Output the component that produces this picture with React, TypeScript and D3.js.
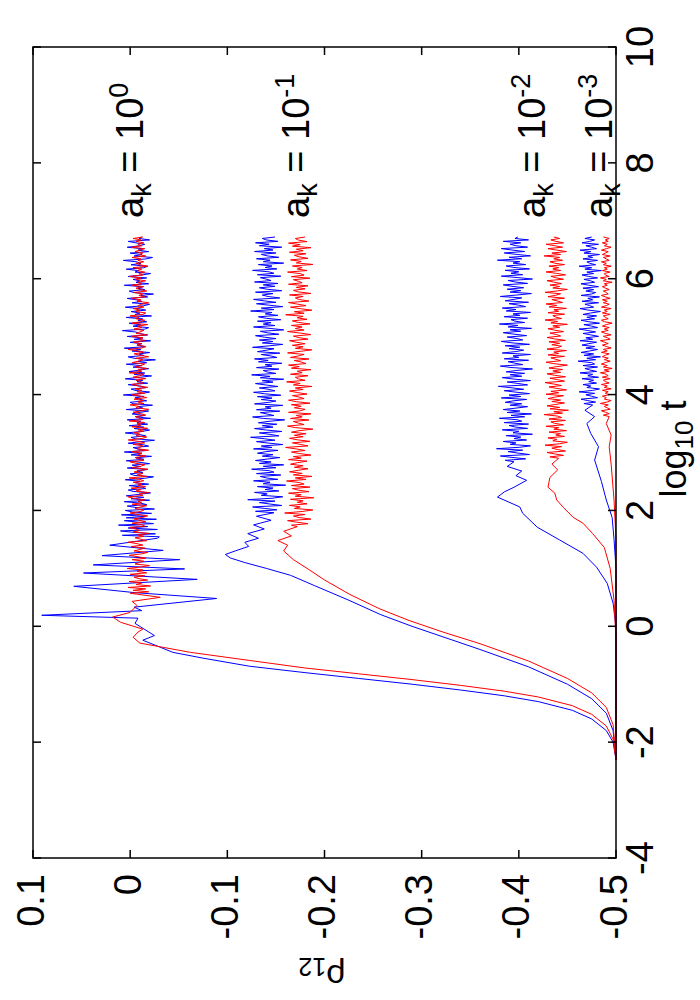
import React, { useEffect, useRef } from 'react';
import * as d3 from 'd3';

// axis ticks
const logTicks = [-4, -2, 0, 2, 4, 6, 8, 10];
const rhoTicks = [0.1, 0, -0.1, -0.2, -0.3, -0.4, -0.5];
const rhoTickLabels = ['0.1', '0', '-0.1', '-0.2', '-0.3', '-0.4', '-0.5'];

// curve annotations (a_k values)
const akExponents = ['0', '-1', '-2', '-3'];
const akLabelRho = [-0.013, -0.184, -0.427, -0.496];
const akLabelLogT = 7.05;

// smooth (early time) parts: [log10 t, rho12]
const blue0Smooth = [[-2.3,-0.5],[-2.0,-0.497],[-1.8,-0.49],[-1.6,-0.475],[-1.45,-0.455],[-1.3,-0.42],[-1.2,-0.385],[-1.1,-0.34],[-1.0,-0.29],[-0.9,-0.235],[-0.8,-0.18],[-0.69,-0.123],[-0.55,-0.075],[-0.45,-0.044],[-0.24,-0.013],[-0.16,-0.025],[0.05,-0.005],[0.14,-0.008],[0.19,0.091],[0.27,-0.012],[0.33,-0.004],[0.48,-0.089],[0.58,-0.005],[0.69,0.058],[0.81,-0.069],[0.92,0.048],[0.99,-0.056],[1.06,0.038],[1.15,-0.051],[1.22,0.029],[1.31,-0.034],[1.40,0.021],[1.52,-0.028]];
const red0Smooth = [[-2.3,-0.5],[-1.95,-0.497],[-1.72,-0.49],[-1.52,-0.475],[-1.37,-0.455],[-1.22,-0.42],[-1.12,-0.385],[-1.02,-0.34],[-0.92,-0.29],[-0.82,-0.235],[-0.72,-0.18],[-0.59,-0.123],[-0.45,-0.062],[-0.29,-0.010],[-0.19,-0.003],[-0.1,-0.008],[-0.05,-0.013],[0.07,0.010],[0.16,0.018],[0.24,0.0],[0.36,-0.007],[0.43,-0.002],[0.5,-0.031],[0.57,0.0]];
const blue1Smooth = [[-2.3,-0.5],[-1.8,-0.497],[-1.5,-0.49],[-1.25,-0.475],[-1.0,-0.45],[-0.7,-0.41],[-0.4,-0.36],[-0.2,-0.325],[0,-0.29],[0.2,-0.258],[0.45,-0.225],[0.7,-0.19],[0.88,-0.165],[1.0,-0.14],[1.1,-0.118],[1.18,-0.103],[1.24,-0.098],[1.3,-0.108],[1.38,-0.122],[1.45,-0.118],[1.52,-0.132],[1.6,-0.121],[1.68,-0.138],[1.75,-0.127],[1.83,-0.145],[1.9,-0.13],[1.96,-0.148]];
const red1Smooth = [[-2.3,-0.5],[-1.7,-0.497],[-1.4,-0.49],[-1.15,-0.475],[-0.9,-0.45],[-0.6,-0.41],[-0.3,-0.36],[-0.1,-0.322],[0.1,-0.287],[0.3,-0.257],[0.55,-0.226],[0.8,-0.2],[1.0,-0.182],[1.15,-0.168],[1.3,-0.158],[1.4,-0.162],[1.48,-0.152],[1.56,-0.166],[1.64,-0.158],[1.72,-0.172]];
const blue2Smooth = [[-2.3,-0.5],[-0.02,-0.5],[0.4,-0.497],[0.74,-0.491],[1.02,-0.48],[1.26,-0.466],[1.49,-0.442],[1.71,-0.419],[1.95,-0.404],[2.06,-0.401],[2.23,-0.378],[2.32,-0.385],[2.4,-0.395],[2.52,-0.408],[2.6,-0.397],[2.68,-0.403],[2.76,-0.388],[2.84,-0.395]];
const red2Smooth = [[-2.3,-0.5],[-0.24,-0.5],[0.45,-0.498],[1.0,-0.494],[1.36,-0.488],[1.6,-0.476],[1.78,-0.466],[1.88,-0.456],[2.05,-0.446],[2.18,-0.439],[2.3,-0.437],[2.4,-0.43],[2.57,-0.432],[2.7,-0.44],[2.8,-0.434],[2.9,-0.441]];
const blue3Smooth = [[-2.3,-0.5],[1.0,-0.5],[1.5,-0.498],[1.88,-0.496],[2.18,-0.49],[2.5,-0.485],[2.87,-0.478],[3.1,-0.482],[3.33,-0.474],[3.5,-0.47],[3.62,-0.478],[3.73,-0.468],[3.82,-0.476]];
const red3Smooth = [[-2.3,-0.5],[1.5,-0.5],[2.18,-0.498],[2.8,-0.495],[3.1,-0.493],[3.3,-0.495],[3.5,-0.49],[3.62,-0.493]];

// fluctuating (late time) parts: rho12 sampled evenly in log10 t up to noiseEnd
const noiseEnd = 6.72;
const blue0Noise = [-0.030,0.008,-0.026,-0.004,0.010,-0.028,0.002,-0.018,0.012,-0.024,-0.008,0.006,-0.027,0.004,-0.016,0.009,-0.022,-0.002,0.005,-0.025,
  -0.006,0.003,-0.017,-0.011,0.006,-0.020,-0.001,-0.014,0.004,-0.009,-0.021,-0.003,0.002,-0.016,-0.012,0.001,-0.019,-0.005,-0.010,0.005,
  -0.015,-0.024,-0.004,0.000,-0.013,-0.007,-0.018,0.003,-0.011,-0.002,-0.020,-0.009,0.004,-0.014,-0.006,-0.022,-0.001,-0.012,0.006,-0.017,
  -0.008,-0.003,-0.019,-0.013,0.002,-0.010,-0.025,-0.005,-0.001,-0.016,-0.009,0.005,-0.012,-0.020,-0.004,-0.014,0.001,-0.018,-0.007,-0.011,
  0.003,-0.021,-0.006,-0.015,-0.002,-0.009,-0.019,0.004,-0.013,-0.008,-0.023,-0.003,0.000,-0.017,-0.010,-0.005,-0.014,0.007,-0.012,-0.020,
  -0.006,-0.001,-0.016,-0.011,0.002,-0.018,-0.007,-0.013,0.005,-0.009,-0.022,-0.004,-0.015,0.001,-0.010,-0.019,-0.003,-0.012,0.004,-0.017,
  -0.008,-0.026,-0.005,0.002,-0.014,-0.009,-0.020,-0.002,-0.011,0.006,-0.016,-0.007,-0.012,0.000,-0.021,-0.004,-0.013,0.003,-0.018,-0.010,
  -0.006,0.008,-0.015,-0.019,-0.003,-0.011,0.001,-0.017,-0.008,-0.013,0.004,-0.022,-0.005,-0.010,-0.001,-0.016,-0.009,0.005,-0.014,-0.020,
  -0.002,-0.012,-0.007,0.003,-0.018,-0.011,-0.024,-0.004,0.001,-0.015,-0.008,-0.013,0.006,-0.019,-0.006,-0.010,-0.003,-0.017,0.002,-0.012,
  -0.021,-0.005,-0.009,0.004,-0.014,-0.018,-0.001,-0.011,-0.007,0.007,-0.016,-0.023,-0.004,-0.012,0.000,-0.019,-0.008,-0.013,0.003,-0.010,
  -0.015,-0.006,0.002,-0.020,-0.009,-0.012];
const red0Noise = [-0.019,-0.003,-0.016,0.002,-0.021,-0.006,-0.012,0.001,-0.018,-0.009,-0.004,-0.015,0.000,-0.017,-0.007,-0.013,0.003,-0.011,-0.020,-0.005,
  -0.009,-0.014,-0.002,-0.016,-0.008,0.001,-0.012,-0.018,-0.004,-0.010,-0.015,-0.001,-0.013,-0.007,0.002,-0.017,-0.011,-0.005,-0.014,-0.008,
  -0.019,-0.003,-0.010,-0.006,0.001,-0.015,-0.012,-0.002,-0.016,-0.009,-0.004,-0.013,-0.018,-0.007,0.000,-0.011,-0.014,-0.005,-0.010,-0.017,
  -0.002,-0.012,-0.008,-0.015,-0.004,0.002,-0.013,-0.009,-0.019,-0.006,-0.011,-0.001,-0.016,-0.008,-0.012,-0.003,-0.014,-0.010,0.001,-0.017,
  -0.007,-0.013,-0.004,-0.009,-0.018,-0.002,-0.011,-0.015,-0.006,0.000,-0.014,-0.010,-0.005,-0.016,-0.008,-0.012,-0.001,-0.019,-0.007,-0.010,
  -0.013,-0.003,-0.015,-0.009,0.002,-0.012,-0.017,-0.006,-0.010,-0.004,-0.014,-0.008,-0.018,-0.002,-0.011,-0.007,-0.015,0.001,-0.013,-0.009,
  -0.005,-0.016,-0.011,-0.003,-0.012,-0.019,-0.006,-0.009,0.000,-0.014,-0.008,-0.013,-0.004,-0.017,-0.010,-0.002,-0.015,-0.007,-0.012,-0.005,
  -0.018,-0.009,-0.001,-0.013,-0.011,-0.006,-0.016,-0.003,-0.010,-0.014,0.001,-0.012,-0.008,-0.017,-0.005,-0.011,-0.015,-0.002,-0.009,-0.013,
  -0.006,-0.019,-0.010,-0.004,-0.014,-0.008,0.002,-0.012,-0.016,-0.007,-0.011,-0.003,-0.015,-0.009,-0.013,-0.001,-0.017,-0.006,-0.010,-0.014,
  -0.004,-0.012,-0.008,-0.018,-0.002,-0.011,-0.015,-0.006,-0.009,0.000,-0.013,-0.016,-0.005,-0.010,-0.003,-0.014,-0.008,-0.012,-0.019,-0.007,
  -0.011,-0.001,-0.015,-0.009,-0.013,-0.004,-0.017,-0.010,-0.006,-0.014,-0.002,-0.012,-0.008,-0.016,-0.005,-0.011,0.001,-0.013,-0.009,-0.015,
  -0.007,-0.012,-0.003,-0.018,-0.010,-0.006,-0.014,-0.008,-0.011,-0.002,-0.016,-0.009,-0.013,-0.005,-0.010,-0.015,-0.001,-0.012,-0.008,-0.014,
  -0.006,-0.011,-0.003,-0.013];
const blue1Noise = [-0.129,-0.151,-0.138,-0.126,-0.156,-0.144,-0.133,-0.149,-0.121,-0.146,-0.157,-0.135,-0.141,-0.128,-0.153,-0.139,-0.147,-0.131,-0.160,-0.137,
  -0.144,-0.127,-0.152,-0.140,-0.134,-0.155,-0.130,-0.148,-0.143,-0.125,-0.150,-0.137,-0.158,-0.133,-0.145,-0.129,-0.141,-0.154,-0.136,-0.147,
  -0.131,-0.139,-0.152,-0.127,-0.146,-0.135,-0.157,-0.142,-0.130,-0.149,-0.138,-0.124,-0.153,-0.144,-0.133,-0.156,-0.140,-0.128,-0.147,-0.136,
  -0.151,-0.132,-0.143,-0.159,-0.137,-0.126,-0.148,-0.141,-0.134,-0.154,-0.130,-0.145,-0.139,-0.157,-0.128,-0.142,-0.150,-0.135,-0.146,-0.131,
  -0.155,-0.138,-0.127,-0.149,-0.143,-0.133,-0.152,-0.140,-0.129,-0.147,-0.136,-0.158,-0.134,-0.144,-0.125,-0.150,-0.141,-0.137,-0.153,-0.130,
  -0.146,-0.139,-0.156,-0.132,-0.142,-0.128,-0.151,-0.145,-0.135,-0.154,-0.131,-0.140,-0.148,-0.126,-0.143,-0.157,-0.136,-0.147,-0.133,-0.150,
  -0.138,-0.129,-0.153,-0.141,-0.134,-0.158,-0.144,-0.127,-0.149,-0.137,-0.145,-0.131,-0.155,-0.140,-0.132,-0.152,-0.139,-0.146,-0.124,-0.148,
  -0.135,-0.157,-0.143,-0.130,-0.150,-0.138,-0.127,-0.154,-0.142,-0.136,-0.147,-0.129,-0.156,-0.141,-0.133,-0.149,-0.137,-0.152,-0.128,-0.145,
  -0.140,-0.134,-0.155,-0.131,-0.148,-0.143,-0.126,-0.151,-0.139,-0.146,-0.132,-0.158,-0.137,-0.144,-0.130,-0.153,-0.141,-0.135,-0.150,-0.128,
  -0.147,-0.138,-0.156,-0.133,-0.143,-0.129,-0.152,-0.140,-0.136,-0.149];
const red1Noise = [-0.166,-0.183,-0.171,-0.162,-0.186,-0.174,-0.168,-0.180,-0.159,-0.177,-0.188,-0.169,-0.175,-0.164,-0.182,-0.172,-0.178,-0.165,-0.189,-0.170,
  -0.176,-0.163,-0.184,-0.173,-0.167,-0.185,-0.166,-0.179,-0.174,-0.161,-0.181,-0.170,-0.187,-0.168,-0.177,-0.164,-0.173,-0.183,-0.169,-0.178,
  -0.165,-0.172,-0.182,-0.163,-0.176,-0.168,-0.186,-0.174,-0.166,-0.180,-0.171,-0.160,-0.183,-0.175,-0.167,-0.185,-0.172,-0.164,-0.178,-0.169,
  -0.181,-0.166,-0.174,-0.188,-0.170,-0.162,-0.179,-0.173,-0.168,-0.184,-0.165,-0.177,-0.171,-0.186,-0.163,-0.175,-0.180,-0.169,-0.176,-0.166,
  -0.185,-0.171,-0.163,-0.179,-0.174,-0.167,-0.182,-0.172,-0.164,-0.178,-0.170,-0.187,-0.168,-0.175,-0.161,-0.180,-0.173,-0.170,-0.183,-0.165,
  -0.177,-0.172,-0.186,-0.166,-0.174,-0.163,-0.181,-0.176,-0.169,-0.184,-0.165,-0.173,-0.179,-0.162,-0.175,-0.187,-0.170,-0.178,-0.167,-0.180,
  -0.171,-0.164,-0.183,-0.174,-0.168,-0.186,-0.175,-0.162,-0.179,-0.170,-0.177,-0.166,-0.185,-0.173,-0.167,-0.182,-0.172,-0.178,-0.160,-0.179,
  -0.169,-0.187,-0.175,-0.165,-0.181,-0.172,-0.163,-0.184,-0.174,-0.170,-0.178,-0.164,-0.186,-0.173,-0.168,-0.180,-0.171,-0.183,-0.163,-0.177,
  -0.173,-0.168,-0.185,-0.166,-0.179,-0.175,-0.162,-0.182,-0.172,-0.177,-0.167,-0.188,-0.171,-0.176,-0.165,-0.183,-0.174,-0.169,-0.181,-0.164,
  -0.178,-0.171,-0.186,-0.167,-0.175,-0.163,-0.182,-0.173,-0.170,-0.180];
const blue2Noise = [-0.386,-0.407,-0.393,-0.381,-0.411,-0.399,-0.389,-0.404,-0.377,-0.401,-0.412,-0.391,-0.397,-0.384,-0.408,-0.395,-0.402,-0.387,-0.414,-0.394,
  -0.400,-0.383,-0.409,-0.396,-0.390,-0.410,-0.385,-0.403,-0.398,-0.380,-0.406,-0.392,-0.413,-0.388,-0.401,-0.384,-0.397,-0.409,-0.391,-0.403,
  -0.386,-0.394,-0.408,-0.382,-0.402,-0.390,-0.411,-0.397,-0.385,-0.405,-0.393,-0.379,-0.409,-0.399,-0.388,-0.412,-0.395,-0.383,-0.403,-0.391,
  -0.406,-0.387,-0.398,-0.414,-0.392,-0.381,-0.404,-0.396,-0.389,-0.410,-0.385,-0.400,-0.394,-0.412,-0.383,-0.397,-0.405,-0.390,-0.401,-0.386,
  -0.411,-0.393,-0.382,-0.404,-0.398,-0.388,-0.408,-0.395,-0.384,-0.402,-0.391,-0.413,-0.389,-0.399,-0.380,-0.406,-0.396,-0.392,-0.409,-0.385,
  -0.401,-0.394,-0.412,-0.387,-0.397,-0.383,-0.407,-0.400,-0.390,-0.410,-0.386,-0.395,-0.403,-0.381,-0.398,-0.413,-0.391,-0.402,-0.388,-0.405,
  -0.393,-0.384,-0.409,-0.396,-0.389,-0.414,-0.399,-0.382,-0.404,-0.392,-0.400,-0.386,-0.411,-0.395,-0.387,-0.407,-0.394,-0.401,-0.378,-0.403,
  -0.390,-0.412,-0.398,-0.385,-0.406,-0.393,-0.382,-0.409,-0.397,-0.391,-0.402,-0.384,-0.410,-0.396,-0.399];
const red2Noise = [-0.432,-0.446,-0.437,-0.429,-0.448,-0.440,-0.434,-0.444,-0.427,-0.442,-0.450,-0.435,-0.439,-0.430,-0.447,-0.438,-0.443,-0.431,-0.449,-0.436,
  -0.441,-0.428,-0.446,-0.437,-0.433,-0.448,-0.431,-0.444,-0.440,-0.426,-0.445,-0.436,-0.451,-0.432,-0.442,-0.429,-0.438,-0.447,-0.434,-0.443,
  -0.430,-0.437,-0.446,-0.428,-0.441,-0.433,-0.449,-0.439,-0.431,-0.444,-0.436,-0.427,-0.447,-0.440,-0.432,-0.448,-0.437,-0.429,-0.443,-0.435,
  -0.445,-0.431,-0.439,-0.450,-0.436,-0.428,-0.443,-0.438,-0.433,-0.447,-0.430,-0.441,-0.436,-0.449,-0.429,-0.440,-0.444,-0.434,-0.442,-0.431,
  -0.448,-0.437,-0.429,-0.443,-0.439,-0.432,-0.446,-0.437,-0.430,-0.442,-0.435,-0.450,-0.433,-0.440,-0.427,-0.444,-0.438,-0.435,-0.447,-0.430,
  -0.441,-0.436,-0.449,-0.431,-0.439,-0.428,-0.445,-0.440,-0.434,-0.447,-0.430,-0.438,-0.443,-0.427,-0.440,-0.450,-0.435,-0.442,-0.432,-0.444,
  -0.436,-0.429,-0.446,-0.438,-0.433,-0.448,-0.439,-0.428,-0.443,-0.435,-0.441,-0.431,-0.447,-0.437,-0.432,-0.445,-0.436,-0.442,-0.426,-0.443,
  -0.434,-0.449,-0.439,-0.430,-0.445,-0.437,-0.428,-0.446,-0.438,-0.433,-0.442,-0.436];
const blue3Noise = [-0.467,-0.479,-0.471,-0.464,-0.481,-0.475,-0.469,-0.478,-0.462,-0.476,-0.483,-0.470,-0.474,-0.466,-0.480,-0.472,-0.477,-0.465,-0.482,-0.471,
  -0.476,-0.463,-0.480,-0.473,-0.468,-0.481,-0.466,-0.478,-0.475,-0.461,-0.479,-0.470,-0.484,-0.467,-0.477,-0.464,-0.473,-0.481,-0.469,-0.478,
  -0.465,-0.472,-0.480,-0.463,-0.476,-0.469,-0.482,-0.474,-0.466,-0.479,-0.471,-0.462,-0.481,-0.475,-0.467,-0.483,-0.472,-0.464,-0.478,-0.470,
  -0.480,-0.466,-0.474,-0.484,-0.471,-0.463,-0.477,-0.473,-0.468,-0.482,-0.465,-0.476,-0.471,-0.483,-0.464,-0.475,-0.479,-0.469,-0.477,-0.466,
  -0.482,-0.472,-0.464,-0.478,-0.474,-0.467,-0.481,-0.472,-0.465,-0.477,-0.470,-0.485,-0.468,-0.475,-0.462,-0.479,-0.473,-0.470,-0.481,-0.466,
  -0.476,-0.471,-0.483,-0.467,-0.474,-0.463,-0.480,-0.475,-0.469,-0.482,-0.465,-0.473,-0.478,-0.468,-0.475];
const red3Noise = [-0.487,-0.493,-0.489,-0.485,-0.494,-0.491,-0.488,-0.492,-0.484,-0.491,-0.495,-0.488,-0.490,-0.486,-0.493,-0.489,-0.492,-0.486,-0.495,-0.488,
  -0.491,-0.485,-0.493,-0.489,-0.487,-0.494,-0.486,-0.492,-0.490,-0.484,-0.493,-0.488,-0.496,-0.487,-0.491,-0.485,-0.489,-0.494,-0.488,-0.492,
  -0.486,-0.489,-0.493,-0.485,-0.491,-0.487,-0.495,-0.490,-0.486,-0.492,-0.488,-0.484,-0.494,-0.491,-0.487,-0.495,-0.489,-0.485,-0.492,-0.488,
  -0.493,-0.486,-0.490,-0.496,-0.488,-0.485,-0.492,-0.489,-0.487,-0.494,-0.486,-0.491,-0.488,-0.495,-0.485,-0.490,-0.493,-0.487,-0.491,-0.486,
  -0.494,-0.489,-0.485,-0.492,-0.490,-0.487,-0.493,-0.489,-0.486,-0.491,-0.488,-0.496,-0.487,-0.490,-0.484,-0.493,-0.489,-0.488,-0.494,-0.486,
  -0.491,-0.488,-0.495,-0.487,-0.490,-0.485,-0.493,-0.490,-0.487,-0.494,-0.486,-0.489,-0.492,-0.485,-0.490,-0.495,-0.488,-0.491,-0.486,-0.492,
  -0.489,-0.493,-0.487];

const series = [
  { color: '#0000ff', smooth: blue0Smooth, noise: blue0Noise },
  { color: '#0000ff', smooth: blue1Smooth, noise: blue1Noise },
  { color: '#0000ff', smooth: blue2Smooth, noise: blue2Noise },
  { color: '#0000ff', smooth: blue3Smooth, noise: blue3Noise },
  { color: '#ff0000', smooth: red0Smooth, noise: red0Noise },
  { color: '#ff0000', smooth: red1Smooth, noise: red1Noise },
  { color: '#ff0000', smooth: red2Smooth, noise: red2Noise },
  { color: '#ff0000', smooth: red3Smooth, noise: red3Noise },
];

const FONT = '"Liberation Sans", Arial, Helvetica, sans-serif';

function buildPoints(s) {
  const pts = s.smooth.map(d => [d[0], d[1]]);
  const last = pts[pts.length - 1][0];
  const n = s.noise.length;
  const start = last + 0.025;
  const step = (noiseEnd - start) / (n - 1);
  s.noise.forEach((v, i) => pts.push([start + i * step, v]));
  return pts;
}

export default function App() {
  const ref = useRef(null);

  useEffect(() => {
    const width = 700;
    const height = 1000;
    const left = 33, right = 616, top = 47, bottom = 858;

    const svg = d3.select(ref.current)
      .attr('width', width)
      .attr('height', height);
    svg.selectAll('*').remove();

    // horizontal: rho12, vertical: log10 t (rotated gnuplot figure)
    const xScale = d3.scaleLinear().domain([0.1, -0.5]).range([left, right]);
    const yScale = d3.scaleLinear().domain([-4, 10]).range([bottom, top]);

    svg.append('rect')
      .attr('width', width).attr('height', height).attr('fill', '#fff');

    // curves
    const line = d3.line()
      .x(d => xScale(d[1]))
      .y(d => yScale(d[0]));

    svg.append('g')
      .selectAll('path')
      .data(series)
      .join('path')
      .attr('d', d => line(buildPoints(d)))
      .attr('fill', 'none')
      .attr('stroke', d => d.color)
      .attr('stroke-width', 1)
      .attr('stroke-linejoin', 'round');

    // frame
    svg.append('rect')
      .attr('x', left).attr('y', top)
      .attr('width', right - left).attr('height', bottom - top)
      .attr('fill', 'none').attr('stroke', '#000').attr('stroke-width', 1.5);

    const tickLen = 8;
    const ticks = svg.append('g').attr('stroke', '#000').attr('stroke-width', 1.5);
    logTicks.forEach(t => {
      const y = yScale(t);
      ticks.append('line').attr('x1', left).attr('x2', left + tickLen).attr('y1', y).attr('y2', y);
      ticks.append('line').attr('x1', right).attr('x2', right - tickLen).attr('y1', y).attr('y2', y);
    });
    rhoTicks.forEach(r => {
      const x = xScale(r);
      ticks.append('line').attr('x1', x).attr('x2', x).attr('y1', top).attr('y2', top + tickLen);
      ticks.append('line').attr('x1', x).attr('x2', x).attr('y1', bottom).attr('y2', bottom - tickLen);
    });

    // log10 t tick labels (right side, rotated)
    svg.append('g')
      .selectAll('text')
      .data(logTicks)
      .join('text')
      .attr('x', 653)
      .attr('y', d => yScale(d))
      .attr('transform', d => `rotate(-90, 653, ${yScale(d)})`)
      .attr('text-anchor', 'middle')
      .attr('font-family', FONT)
      .attr('font-size', 38)
      .text(d => String(d));

    // rho tick labels (bottom, rotated)
    svg.append('g')
      .selectAll('text')
      .data(rhoTicks)
      .join('text')
      .attr('x', d => xScale(d) + 10.5)
      .attr('y', 874)
      .attr('transform', d => `rotate(-90, ${xScale(d) + 10.5}, 874)`)
      .attr('text-anchor', 'end')
      .attr('font-family', FONT)
      .attr('font-size', 38)
      .text((d, i) => rhoTickLabels[i]);

    // axis titles
    const yl = svg.append('text')
      .attr('x', 686).attr('y', 449)
      .attr('transform', 'rotate(-90, 686, 449)')
      .attr('text-anchor', 'middle')
      .attr('font-family', FONT)
      .attr('font-size', 36);
    yl.append('tspan').text('log');
    yl.append('tspan').attr('font-size', 26).attr('dy', 7).text('10');
    yl.append('tspan').attr('dy', -7).text(' t');

    const xl = svg.append('text')
      .attr('x', 322).attr('y', 965)
      .attr('transform', 'rotate(180, 322, 965)')
      .attr('text-anchor', 'middle')
      .attr('font-family', FONT)
      .attr('font-size', 34);
    xl.append('tspan').text('\u03c1');
    xl.append('tspan').attr('font-size', 25).attr('dy', 7).text('12');

    // a_k annotations
    akExponents.forEach((e, i) => {
      const x = xScale(akLabelRho[i]);
      const y = yScale(akLabelLogT);
      const t = svg.append('text')
        .attr('x', x).attr('y', y)
        .attr('transform', `rotate(-90, ${x}, ${y})`)
        .attr('text-anchor', 'start')
        .attr('font-family', FONT)
        .attr('font-size', 38);
      t.append('tspan').text('a');
      t.append('tspan').attr('font-size', 27).attr('dy', 8).text('k');
      t.append('tspan').attr('dy', -8).text(' = 10');
      t.append('tspan').attr('font-size', 27).attr('dy', -15).text(e);
    });
  }, []);

  return (
    <div style={{ position: 'absolute', left: 0, top: 0 }}>
      <svg ref={ref} style={{ display: 'block' }} />
    </div>
  );
}
